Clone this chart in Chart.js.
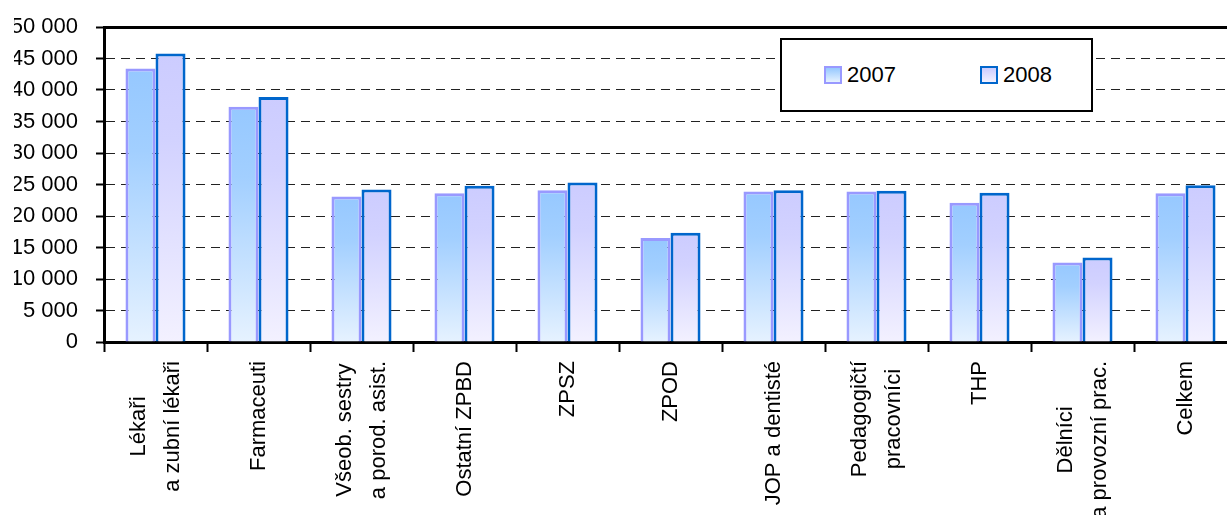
<!DOCTYPE html>
<html lang="cs">
<head>
<meta charset="utf-8">
<script src="https://cdn.jsdelivr.net/npm/chart.js@4/dist/chart.umd.min.js"></script>
<style>
  html, body { margin: 0; padding: 0; background: #fff; overflow: hidden; }
  #wrap { position: relative; width: 1240px; height: 515px; }
  #legend {
    position: absolute; left: 780px; top: 38px; width: 309px; height: 70px;
    border: 2.5px solid #000; background: #fff;
    font-family: "Liberation Sans", Arial, sans-serif; font-size: 22px; color: #000;
  }
  .item { position: absolute; top: 24px; display: flex; align-items: center; line-height: 22px; }
  .swatch { width: 14px; height: 14px; margin-right: 5px; border: 2px solid; }
</style>
</head>
<body>
<div id="wrap">
  <canvas id="chart" width="1240" height="515"></canvas>
  <div id="legend"></div>
</div>
<script>
const KATEGORIE = [
  ["Lékaři", "a zubní lékaři"],
  ["Farmaceuti"],
  ["Všeob. sestry", "a porod. asist."],
  ["Ostatní ZPBD"],
  ["ZPSZ"],
  ["ZPOD"],
  ["JOP a dentisté"],
  ["Pedagogičtí", "pracovníci"],
  ["THP"],
  ["Dělníci", "a provozní prac."],
  ["Celkem"],
];
const ROKY = ["2007", "2008"];
const MZDA_2007 = [43400, 37350, 23100, 23600, 24100, 16500, 23900, 23900, 22100, 12600, 23600];
const MZDA_2008 = [45800, 38900, 24200, 24800, 25300, 17350, 24100, 24000, 23700, 13400, 24900];
const Y_MAX = 50000;
const Y_STEP = 5000;

const FONT = '"Liberation Sans", Arial, sans-serif';

function fmt(v) {
  return String(v).replace(/\B(?=(\d{3})+(?!\d))/g, " ");
}

// svislý přechod v rámci jednoho sloupce
function gradient(stops) {
  return (ctx) => {
    const chart = ctx.chart;
    if (!chart.chartArea || ctx.type !== "data") return stops[0][1];
    const y = chart.scales.y;
    const top = y.getPixelForValue(ctx.parsed.y);
    const base = y.getPixelForValue(0);
    const g = chart.ctx.createLinearGradient(0, top, 0, base);
    stops.forEach(([p, c]) => g.addColorStop(p, c));
    return g;
  };
}

const STYL = [
  { fill: [[0, "#96c8ff"], [0.3, "#a2cfff"], [1, "#e6f2ff"]], border: "#9999ff" },
  { fill: [[0, "#ccccff"], [0.3, "#d2d2ff"], [1, "#f3f1ff"]], border: "#0066cc" },
];

// popisky osy x: otočené, víceřádkové, řádky na střed
const xLabels = {
  id: "xLabels",
  afterDraw(chart) {
    const { ctx, scales: { x } } = chart;
    const top = x.top + 19;
    ctx.save();
    ctx.font = `22px ${FONT}`;
    ctx.fillStyle = "#000";
    ctx.textAlign = "center";
    ctx.textBaseline = "middle";
    KATEGORIE.forEach((lines, i) => {
      const cx = x.getPixelForValue(i);
      const w = Math.max(...lines.map((l) => ctx.measureText(l).width));
      const cy = top + w / 2;
      lines.forEach((l, j) => {
        ctx.save();
        ctx.translate(cx + (j - (lines.length - 1) / 2) * 34, cy);
        ctx.rotate(-Math.PI / 2);
        ctx.fillText(l, 0, 0);
        ctx.restore();
      });
    });
    ctx.restore();
  },
};

const chart = new Chart(document.getElementById("chart"), {
  type: "bar",
  data: {
    labels: KATEGORIE.map((l) => l.join(" ")),
    datasets: [MZDA_2007, MZDA_2008].map((data, i) => ({
      label: ROKY[i],
      data,
      backgroundColor: gradient(STYL[i].fill),
      borderColor: STYL[i].border,
      borderWidth: 3,
      categoryPercentage: 0.583,
      barPercentage: 1.0,
    })),
  },
  options: {
    responsive: false,
    animation: false,
    devicePixelRatio: 1,
    layout: { padding: { left: 14, right: 3, top: 27, bottom: 163 } },
    plugins: { legend: { display: false }, tooltip: { enabled: false } },
    scales: {
      x: {
        grid: { drawOnChartArea: false, tickLength: 10, tickColor: "#000", tickWidth: 2 },
        border: { color: "#000", width: 3 },
        ticks: { display: false },
      },
      x2: {
        position: "top",
        afterFit: (s) => { s.height = 0; },
        grid: { display: false, drawTicks: false },
        border: { color: "#000", width: 3 },
        ticks: { display: false },
      },
      y: {
        min: 0,
        max: Y_MAX,
        afterFit: (s) => { s.width = 90; s.paddingTop = 0; s.paddingBottom = 0; },
        ticks: {
          stepSize: Y_STEP,
          padding: 18,
          color: "#000",
          font: { family: FONT, size: 22 },
          callback: (v) => fmt(v),
        },
        grid: { color: "#222", lineWidth: 1, tickLength: 8, tickColor: "#000", tickWidth: 2 },
        border: { color: "#000", width: 3, dash: [9, 6] },
      },
    },
  },
  plugins: [xLabels],
});

// legenda v rámečku
const legend = document.getElementById("legend");
const LEFT = [42, 198];
chart.data.datasets.forEach((ds, i) => {
  const item = document.createElement("div");
  item.className = "item";
  item.style.left = LEFT[i] + "px";
  const sw = document.createElement("span");
  sw.className = "swatch";
  const stops = STYL[i].fill;
  sw.style.background = `linear-gradient(${stops[0][1]}, ${stops[stops.length - 1][1]})`;
  sw.style.borderColor = ds.borderColor;
  const txt = document.createElement("span");
  txt.textContent = ds.label;
  item.append(sw, txt);
  legend.append(item);
});
</script>
</body>
</html>
